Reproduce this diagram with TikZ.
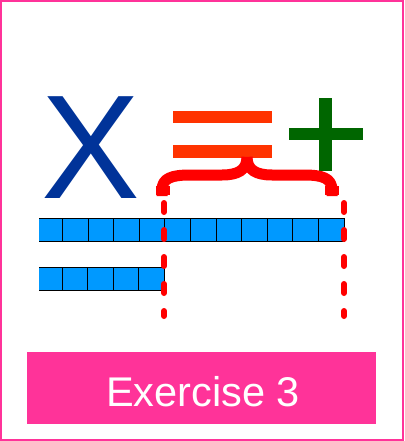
\documentclass[tikz,border=0pt]{standalone}
\usepackage{fontspec}
\setmainfont{Liberation Sans}
\definecolor{xblue}{HTML}{003399}
\definecolor{eqorange}{HTML}{FF3300}
\definecolor{plusgreen}{HTML}{006600}
\definecolor{bracered}{HTML}{FF0000}
\definecolor{cellblue}{HTML}{0099FF}
\definecolor{boxpink}{HTML}{FF3399}
\begin{document}
\begin{tikzpicture}[x=1pt,y=-1pt,
  bracestyle/.style={draw=bracered,line width=11pt,line cap=butt,line join=round},
  braceend/.style={draw=bracered,line width=14pt,line cap=butt},
  dashline/.style={draw=bracered,line width=6pt,line cap=round,dash pattern=on 9pt off 18pt},
  cellline/.style={draw=black,line width=1pt},
  lbl/.style={inner sep=0pt,anchor=base}]
\useasboundingbox (0,0) rectangle (404,441);
% outer border
\draw[boxpink,line width=2pt] (1,1) rectangle (403,440);
% X
\node[lbl,text=xblue,font=\fontsize{148}{148}\selectfont] (xletter) at (90.5,198) {X};
% equals sign
\fill[eqorange] (173,111) rectangle (272,123);
\fill[eqorange] (173,145) rectangle (272,158);
% plus sign
\fill[plusgreen] (319,98) rectangle (332,171);
\fill[plusgreen] (289,128) rectangle (363,140);
% brace
\draw[bracestyle] (162,196) -- (162,190) .. controls (162,178) and (172,175) .. (190,175) -- (222,175) .. controls (238,175) and (247,170) .. (247,157);
\draw[bracestyle] (332,196) -- (332,190) .. controls (332,178) and (322,175) .. (304,175) -- (272,175) .. controls (256,175) and (247,170) .. (247,157);
\draw[braceend] (162.5,195) -- (162.5,186);
\draw[braceend] (331.5,195) -- (331.5,186);
% top bar
\fill[cellblue] (39,218) rectangle (344,241);
\draw[cellline] (39,218) -- (344,218) -- (344,241) -- (39,241);
\foreach \k in {1,...,11} {
  \draw[cellline] ({344-25.6*\k},218) -- ({344-25.6*\k},241);
}
% bottom bar
\fill[cellblue] (39,267) rectangle (164.4,290);
\draw[cellline] (39,267) -- (164.4,267) -- (164.4,290) -- (39,290);
\foreach \k in {1,...,4} {
  \draw[cellline] ({164.4-25.6*\k},267) -- ({164.4-25.6*\k},290);
}
% dashed lines
\coordinate (dla) at (164,203);
\coordinate (dlb) at (164,316);
\coordinate (dra) at (344,203);
\coordinate (drb) at (344,316);
\draw[dashline] (dla) -- (dlb);
\draw[dashline] (dra) -- (drb);
% exercise box
\fill[boxpink] (27,352) rectangle (376,424);
\node[lbl,text=white,font=\fontsize{41.5}{42}\selectfont] (extitle) at (203,406) {Exercise 3};
\end{tikzpicture}
\end{document}
